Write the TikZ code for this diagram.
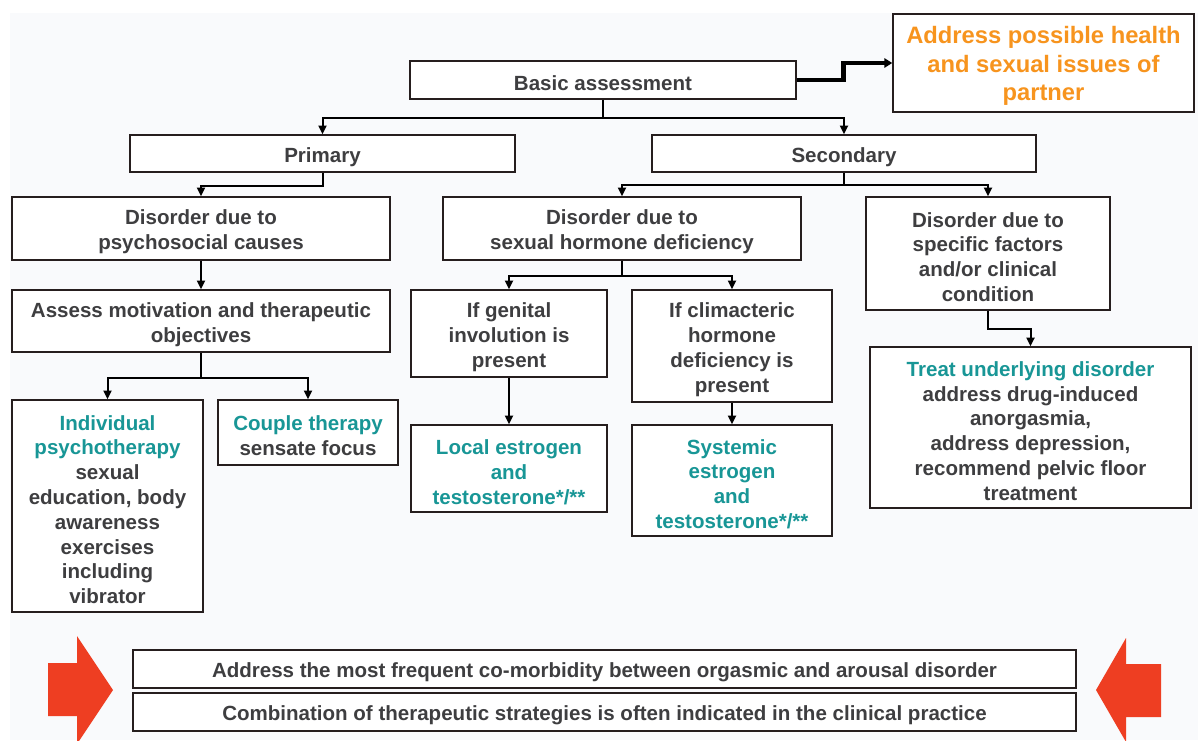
\documentclass[tikz,border=0pt]{standalone}
\usepackage{fontspec}
\setmainfont{Liberation Sans}
\usetikzlibrary{arrows.meta}
\definecolor{ink}{RGB}{62,62,64}
\definecolor{tealc}{RGB}{24,150,150}
\definecolor{orangec}{RGB}{247,148,30}
\definecolor{redc}{RGB}{238,62,34}
\definecolor{edge}{RGB}{38,30,30}
\definecolor{bgc}{RGB}{249,250,252}
\newcommand{\tl}[1]{\textcolor{tealc}{#1}}
% taller first line, so the text block sits a little lower in its box
\newcommand{\lowr}{\rule{0pt}{16.4pt}}
\begin{document}
\begin{tikzpicture}[x=0.75pt,y=-0.75pt,
  box/.style 2 args={draw=edge, line width=1.1pt, fill=white, inner sep=0pt,
    align=center, text=ink, minimum width=#1*0.75pt, minimum height=#2*0.75pt,
    font=\fontsize{15.4}{18.6}\selectfont\bfseries},
  conn/.style={draw=black, line width=1.5pt, -{Triangle[length=6.5pt,width=6pt]}},
  thickconn/.style={draw=black, line width=3.4pt, -{Triangle[length=6pt,width=7pt]}},
  bigarrow/.style={fill=redc}]
\useasboundingbox (0,0) rectangle (1198,740);
\clip (0,0) rectangle (1198,740);
% page background
\fill[bgc] (10,13) rectangle (1198,740);

% boxes
\node[box={386}{38}] (ba) at (603,80) {\lowr Basic assessment};
\node[box={301}{98}, text=orangec, font=\fontsize{17.8}{21.5}\selectfont\bfseries] (par) at (1043.5,63)
  {\rule{0pt}{17.5pt}Address possible health\\and sexual issues of\\partner};
\node[box={385}{37}] (prim) at (322.5,153.5) {\lowr Primary};
\node[box={384}{37}] (sec) at (844,153.5) {\lowr Secondary};
\node[box={378}{63}] (psy) at (201,228.5) {\lowr Disorder due to\\psychosocial causes};
\node[box={358}{63}] (hor) at (622,228.5) {\lowr Disorder due to\\sexual hormone deficiency};
\node[box={244}{113}] (spec) at (988,253.5) {\lowr Disorder due to\\specific factors\\and/or clinical\\condition};
\node[box={378}{62}] (ass) at (201,321) {\lowr Assess motivation and therapeutic\\objectives};
\node[box={191}{212}] (ind) at (107.5,506)
  {\lowr\tl{Individual}\\\tl{psychotherapy}\\sexual\\education, body\\awareness\\exercises\\including\\vibrator};
\node[box={180}{65}] (cou) at (308,432.5) {\lowr\tl{Couple therapy}\\sensate focus};
\node[box={196}{87}] (gen) at (509,333.5) {\lowr If genital\\involution is\\present};
\node[box={200}{112}] (cli) at (732,346) {\lowr If climacteric\\hormone\\deficiency is\\present};
\node[box={196}{87}, text=tealc] (loc) at (509,468.5) {\lowr Local estrogen\\and\\testosterone*/**};
\node[box={200}{111}, text=tealc] (sys) at (732,480.5) {\lowr Systemic\\estrogen\\and\\testosterone*/**};
\node[box={321}{161}] (trt) at (1030.5,427.5)
  {\lowr\tl{Treat underlying disorder}\\address drug-induced\\anorgasmia,\\address depression,\\recommend pelvic floor\\treatment};
\node[box={943}{38}] (b1) at (604.5,669) {\lowr Address the most frequent co-morbidity between orgasmic and arousal disorder};
\node[box={943}{38}] (b2) at (604.5,712) {\lowr Combination of therapeutic strategies is often indicated in the clinical practice};

% connectors
\draw[thickconn] (ba.east) -- ++(47,0) |- (par.west);
\coordinate (j1) at (603,118);
\draw[conn] (ba.south) -- (j1) -| (prim.north);
\draw[conn] (j1) -| (sec.north);
\draw[conn] (prim.south) -- ++(0,13) -| (psy.north);
\coordinate (j2) at (844,185);
\draw[conn] (sec.south) -- (j2) -| (hor.north);
\draw[conn] (j2) -| (spec.north);
\draw[conn] (psy.south) -- (ass.north);
\coordinate (j3) at (201,378);
\draw[conn] (ass.south) -- (j3) -| (ind.north);
\draw[conn] (j3) -| (cou.north);
\coordinate (j4) at (622,276);
\draw[conn] (hor.south) -- (j4) -| (gen.north);
\draw[conn] (j4) -| (cli.north);
\draw[conn] (gen.south) -- (loc.north);
\draw[conn] (cli.south) -- (sys.north);
\draw[conn] (spec.south) -- ++(0,18) -| (trt.north);

% red block arrows beside the bottom notes
\fill[bigarrow] (48,663) -- (77,663) -- (77,636) -- (113,690) -- (77,744) -- (77,716) -- (48,716) -- cycle;
\fill[bigarrow] (1161,664) -- (1126,664) -- (1126,638) -- (1096,690) -- (1126,742) -- (1126,717) -- (1161,717) -- cycle;
\end{tikzpicture}
\end{document}
